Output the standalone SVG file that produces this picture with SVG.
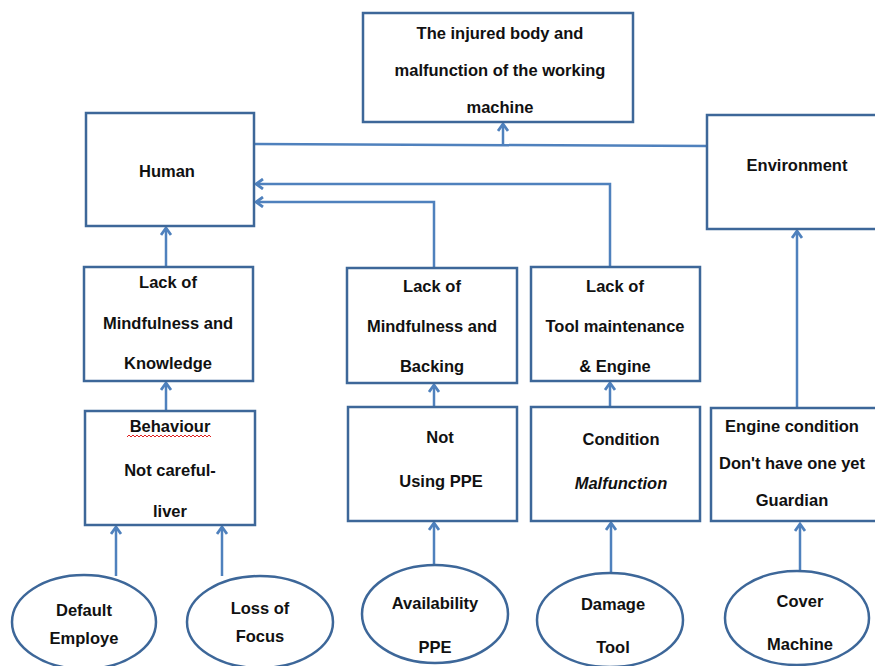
<svg xmlns="http://www.w3.org/2000/svg" width="875" height="666" viewBox="0 0 875 666">
  <defs>
    <style>
      .box { fill: #ffffff; stroke: #3d6799; stroke-width: 2.5; }
      .oval { fill: #ffffff; stroke: #3d6799; stroke-width: 2.5; }
      .wire { fill: none; stroke: #4f81bd; stroke-width: 2.5; }
      .lbl { font-family: "Liberation Sans", Arial, sans-serif; font-size: 16.5px; font-weight: bold; fill: #111111; text-anchor: middle; }
      .it { font-style: italic; }
      .squiggle { fill: none; stroke: #e02020; stroke-width: 1; }
    </style>
    <marker id="head" viewBox="0 0 12 12" markerWidth="12" markerHeight="12" refX="10" refY="6" orient="auto" markerUnits="userSpaceOnUse">
      <path d="M3,1 L10,6 L3,11" fill="none" stroke="#4f81bd" stroke-width="2.8"/>
    </marker>
  </defs>
  <rect width="875" height="666" fill="#ffffff"/>

  <!-- connectors -->
  <g id="connectors">
    <path class="wire" d="M254,144 L708,146"/>
    <path class="wire" d="M503,145 L503,124" marker-end="url(#head)"/>
    <path class="wire" d="M166,267 L166,228" marker-end="url(#head)"/>
    <path class="wire" d="M166,411 L166,383" marker-end="url(#head)"/>
    <path class="wire" d="M434,268 L434,202 L256,202" marker-end="url(#head)"/>
    <path class="wire" d="M610,267 L610,184 L256,184" marker-end="url(#head)"/>
    <path class="wire" d="M434,407 L434,385" marker-end="url(#head)"/>
    <path class="wire" d="M610,407 L610,383" marker-end="url(#head)"/>
    <path class="wire" d="M797,408 L797,231" marker-end="url(#head)"/>
    <path class="wire" d="M116,576 L116,527" marker-end="url(#head)"/>
    <path class="wire" d="M222,576 L222,527" marker-end="url(#head)"/>
    <path class="wire" d="M434,565 L434,523" marker-end="url(#head)"/>
    <path class="wire" d="M611,573 L611,523" marker-end="url(#head)"/>
    <path class="wire" d="M800,571 L800,524" marker-end="url(#head)"/>
  </g>

  <!-- outcome -->
  <g id="outcome">
    <rect class="box" x="363" y="13" width="270" height="109"/>
    <text class="lbl" x="500" y="39">The injured body and</text>
    <text class="lbl" x="500" y="76">malfunction of the working</text>
    <text class="lbl" x="500" y="113">machine</text>
  </g>

  <g id="human">
    <rect class="box" x="86" y="113" width="168" height="113"/>
    <text class="lbl" x="167" y="177">Human</text>
  </g>

  <g id="environment">
    <rect class="box" x="707" y="115" width="172" height="114"/>
    <text class="lbl" x="797" y="171">Environment</text>
  </g>

  <g id="lack-knowledge">
    <rect class="box" x="84" y="267" width="169" height="114"/>
    <text class="lbl" x="168" y="288">Lack of</text>
    <text class="lbl" x="168" y="329">Mindfulness and</text>
    <text class="lbl" x="168" y="369">Knowledge</text>
  </g>

  <g id="behaviour">
    <rect class="box" x="85" y="411" width="170" height="114"/>
    <text class="lbl" x="170" y="432">Behaviour</text>
    <path class="squiggle" d="M127,437 l2,-2 l2,2 l2,-2 l2,2 l2,-2 l2,2 l2,-2 l2,2 l2,-2 l2,2 l2,-2 l2,2 l2,-2 l2,2 l2,-2 l2,2 l2,-2 l2,2 l2,-2 l2,2 l2,-2 l2,2 l2,-2 l2,2 l2,-2 l2,2 l2,-2 l2,2 l2,-2 l2,2 l2,-2 l2,2 l2,-2 l2,2 l2,-2 l2,2 l2,-2 l2,2 l2,-2 l2,2 l2,-2 l2,2"/>
    <text class="lbl" x="170" y="476">Not careful-</text>
    <text class="lbl" x="170" y="517">liver</text>
  </g>

  <g id="lack-backing">
    <rect class="box" x="347" y="268" width="170" height="115"/>
    <text class="lbl" x="432" y="292">Lack of</text>
    <text class="lbl" x="432" y="332">Mindfulness and</text>
    <text class="lbl" x="432" y="372">Backing</text>
  </g>

  <g id="not-ppe">
    <rect class="box" x="348" y="407" width="169" height="114"/>
    <text class="lbl" x="440" y="443">Not</text>
    <text class="lbl" x="441" y="487">Using PPE</text>
  </g>

  <g id="lack-maintenance">
    <rect class="box" x="531" y="267" width="169" height="114"/>
    <text class="lbl" x="615" y="292">Lack of</text>
    <text class="lbl" x="615" y="332">Tool maintenance</text>
    <text class="lbl" x="615" y="372">&amp; Engine</text>
  </g>

  <g id="condition">
    <rect class="box" x="531" y="407" width="169" height="114"/>
    <text class="lbl" x="621" y="445">Condition</text>
    <text class="lbl it" x="621" y="489">Malfunction</text>
  </g>

  <g id="engine-condition">
    <rect class="box" x="711" y="408" width="168" height="113"/>
    <text class="lbl" x="792" y="432">Engine condition</text>
    <text class="lbl" x="792" y="469">Don't have one yet</text>
    <text class="lbl" x="792" y="506">Guardian</text>
  </g>

  <g id="default-employe">
    <ellipse class="oval" cx="84" cy="622" rx="72" ry="47"/>
    <text class="lbl" x="84" y="616">Default</text>
    <text class="lbl" x="84" y="644">Employe</text>
  </g>

  <g id="loss-focus">
    <ellipse class="oval" cx="260" cy="622" rx="73" ry="46"/>
    <text class="lbl" x="260" y="614">Loss of</text>
    <text class="lbl" x="260" y="642">Focus</text>
  </g>

  <g id="availability-ppe">
    <ellipse class="oval" cx="435" cy="614" rx="73" ry="49"/>
    <text class="lbl" x="435" y="609">Availability</text>
    <text class="lbl" x="435" y="653">PPE</text>
  </g>

  <g id="damage-tool">
    <ellipse class="oval" cx="610" cy="620" rx="73" ry="47"/>
    <text class="lbl" x="613" y="610">Damage</text>
    <text class="lbl" x="613" y="653">Tool</text>
  </g>

  <g id="cover-machine">
    <ellipse class="oval" cx="797" cy="618" rx="72" ry="47"/>
    <text class="lbl" x="800" y="607">Cover</text>
    <text class="lbl" x="800" y="650">Machine</text>
  </g>
</svg>
